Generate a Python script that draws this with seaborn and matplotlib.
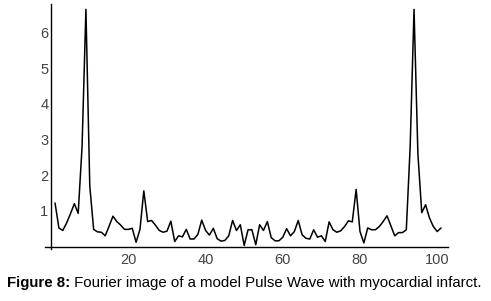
import matplotlib
matplotlib.use("Agg")
import matplotlib.pyplot as plt
import seaborn as sns
import pandas as pd
import numpy as np
from matplotlib.ticker import MultipleLocator, FixedLocator

# ---- data ----
harmonic = list(range(1, 102))
amplitude = [
    1.22, 0.52, 0.45, 0.66, 0.92, 1.20, 0.93, 2.80, 6.65, 1.70,
    0.48, 0.41, 0.40, 0.30, 0.57, 0.85, 0.70, 0.60, 0.48, 0.48,
    0.51, 0.12, 0.48, 1.56, 0.70, 0.73, 0.60, 0.45, 0.40, 0.43,
    0.71, 0.14, 0.30, 0.27, 0.48, 0.21, 0.21, 0.34, 0.74, 0.45,
    0.32, 0.51, 0.22, 0.15, 0.17, 0.30, 0.73, 0.45, 0.61, 0.03,
    0.47, 0.47, 0.05, 0.61, 0.45, 0.70, 0.25, 0.16, 0.16, 0.26,
    0.50, 0.30, 0.42, 0.73, 0.33, 0.23, 0.21, 0.47, 0.26, 0.30,
    0.14, 0.69, 0.47, 0.40, 0.44, 0.56, 0.72, 0.69, 1.60, 0.42,
    0.10, 0.52, 0.47, 0.47, 0.56, 0.70, 0.86, 0.58, 0.30, 0.39,
    0.39, 0.47, 2.80, 6.65, 2.60, 0.95, 1.17, 0.80, 0.56, 0.42,
    0.52,
]
x_ticks = [20, 40, 60, 80, 100]
y_ticks = [1, 2, 3, 4, 5, 6]
caption_bold = "Figure 8:"
caption_rest = " Fourier image of a model Pulse Wave with myocardial infarct."

df = pd.DataFrame({"harmonic": harmonic, "amplitude": amplitude})

sns.set_style("white")
plt.rcParams["font.family"] = ["Liberation Sans", "DejaVu Sans"]

fig = plt.figure(figsize=(4.91, 3.01), dpi=100)
ax = fig.add_axes([45 / 491, 1 - 249 / 301, 403 / 491, 245 / 301])

sns.lineplot(data=df, x="harmonic", y="amplitude", ax=ax,
             color="black", linewidth=1.1, estimator=None)

ax.set_xlim(-1.6, 102.8)
ax.set_ylim(-0.07, 6.8)

for s in ["top", "right"]:
    ax.spines[s].set_visible(False)
ax.spines["left"].set_position(("data", 0))
ax.spines["bottom"].set_position(("data", 0))
for s in ["left", "bottom"]:
    ax.spines[s].set_color("black")
    ax.spines[s].set_linewidth(1.0)

ax.xaxis.set_major_locator(FixedLocator(x_ticks))
ax.xaxis.set_minor_locator(MultipleLocator(5))
ax.yaxis.set_major_locator(FixedLocator(y_ticks))
ax.yaxis.set_minor_locator(MultipleLocator(0.2))
ax.set_xticklabels([str(t) for t in x_ticks])
ax.set_yticklabels([str(t) for t in y_ticks])

ax.tick_params(axis="both", which="major", direction="in", length=3.0,
               width=0.8, color="black", labelsize=10.5, labelcolor="#444444")
ax.tick_params(axis="both", which="minor", direction="in", length=1.8,
               width=0.6, color="black")
ax.tick_params(axis="x", which="major", pad=5)
ax.tick_params(axis="y", which="major", pad=2)
ax.set_xlabel("")
ax.set_ylabel("")
ax.grid(False)

# caption
fig.canvas.draw()
renderer = fig.canvas.get_renderer()
t1 = fig.text(7 / 491, 1 - 283 / 301, caption_bold, fontsize=10.8,
              fontweight="bold", va="center", ha="left", color="black")
bb = t1.get_window_extent(renderer=renderer)
x2 = bb.x1 / fig.bbox.width
fig.text(x2, 1 - 283 / 301, caption_rest, fontsize=10.8,
         va="center", ha="left", color="black")

fig.savefig("out.png", dpi=100)
